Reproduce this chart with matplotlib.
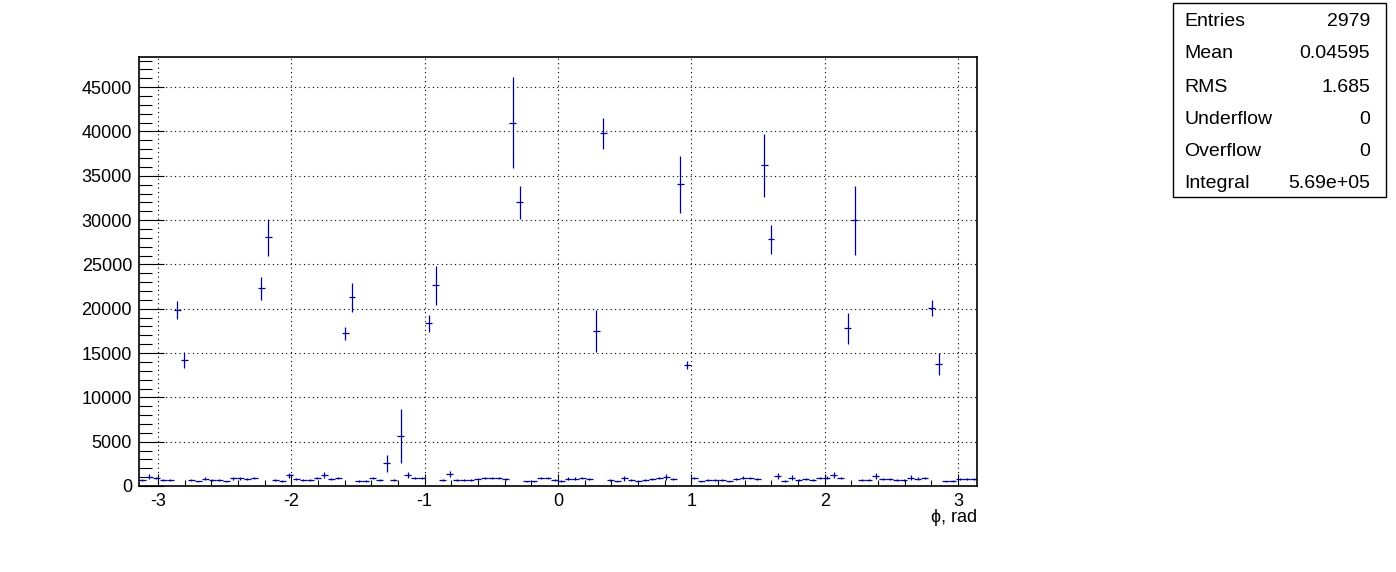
import numpy as np
import matplotlib.pyplot as plt
from matplotlib.patches import Rectangle
from matplotlib.ticker import MultipleLocator

plt.rcParams['font.family'] = ['Liberation Sans', 'DejaVu Sans']
plt.rcParams['axes.unicode_minus'] = False

# histogram: 120 bins from -pi to pi
n_bins = 120
phi_min, phi_max = -np.pi, np.pi

# bin contents, 10 bins per row
contents = [
    680, 1050, 900, 700, 700, 19850, 14210, 640, 530, 830,
    640, 640, 530, 860, 860, 750, 900, 22300, 28080, 680,
    570, 1200, 750, 640, 640, 870, 1240, 750, 870, 17220,
    21280, 570, 570, 870, 640, 2560, 640, 5640, 1240, 870,
    870, 18350, 22670, 640, 1350, 640, 640, 640, 750, 870,
    870, 870, 750, 41010, 32000, 530, 530, 870, 870, 640,
    570, 830, 830, 870, 750, 17480, 39770, 640, 530, 870,
    640, 530, 640, 750, 870, 1020, 750, 34020, 13650, 870,
    530, 640, 640, 640, 530, 750, 940, 870, 750, 36170,
    27860, 1130, 570, 940, 640, 750, 640, 870, 940, 1240,
    870, 17820, 30000, 640, 640, 1130, 750, 750, 640, 640,
    940, 830, 870, 20070, 13760, 530, 570, 750, 750, 750,
]

# bin errors
errors = [
    120, 300, 150, 120, 120, 1020, 900, 100, 90, 130,
    100, 100, 90, 130, 130, 120, 150, 1300, 2090, 110,
    90, 320, 120, 100, 100, 130, 330, 120, 130, 710,
    1650, 90, 90, 130, 100, 940, 100, 3010, 330, 130,
    130, 940, 2200, 100, 380, 100, 100, 100, 120, 130,
    130, 130, 120, 5130, 1860, 90, 90, 130, 130, 100,
    90, 130, 130, 130, 120, 2370, 1710, 100, 90, 280,
    100, 90, 100, 120, 130, 300, 120, 3230, 450, 130,
    90, 100, 100, 100, 90, 120, 150, 130, 120, 3530,
    1640, 320, 90, 280, 100, 120, 100, 130, 150, 330,
    130, 1750, 3890, 100, 100, 320, 120, 120, 100, 100,
    280, 130, 130, 900, 1240, 90, 90, 120, 120, 120,
]

stat_names = ["Entries", "Mean", "RMS", "Underflow", "Overflow", "Integral"]
stat_values = ["2979", "0.04595", "1.685", "0", "0", "5.69e+05"]

edges = np.linspace(phi_min, phi_max, n_bins + 1)
centers = 0.5 * (edges[:-1] + edges[1:])
half_width = 0.5 * (edges[1] - edges[0])

fig = plt.figure(figsize=(13.96, 5.72), dpi=100)
ax = fig.add_axes([139 / 1396, 86 / 572, 838 / 1396, 429 / 572])

ax.errorbar(centers, contents, xerr=half_width, yerr=errors, fmt='none',
            ecolor='#000099', elinewidth=0.9, capsize=0)

ax.set_xlim(phi_min, phi_max)
ax.set_ylim(0, 48400)

ax.xaxis.set_major_locator(MultipleLocator(1))
ax.xaxis.set_minor_locator(MultipleLocator(0.2))
ax.yaxis.set_major_locator(MultipleLocator(5000))
ax.yaxis.set_minor_locator(MultipleLocator(1000))
ax.tick_params(axis='x', which='major', direction='in', length=9, width=0.8, labelsize=13, pad=5)
ax.tick_params(axis='x', which='minor', direction='in', length=4.5, width=0.8)
ax.tick_params(axis='y', which='major', direction='in', length=18, width=0.8, labelsize=13, pad=5)
ax.tick_params(axis='y', which='minor', direction='in', length=9, width=0.8)

ax.grid(True, which='major', color='black', linestyle=(0, (1, 3)), linewidth=0.8)
for side in ax.spines.values():
    side.set_linewidth(1.2)

fig.text(977 / 1396, 1 - 517 / 572, "ϕ, rad", ha='right', va='center', fontsize=13)

# stats box
box = Rectangle((1173 / 1396, 1 - 197 / 572), 213 / 1396, 194 / 572,
                transform=fig.transFigure, fill=False, edgecolor='black', linewidth=1.0)
fig.patches.append(box)
row_y = [21, 54, 87, 119, 151, 184]
for name, val, y in zip(stat_names, stat_values, row_y):
    fig.text(1184 / 1396, 1 - y / 572, name, ha='left', va='center', fontsize=14)
    fig.text(1370 / 1396, 1 - y / 572, val, ha='right', va='center', fontsize=14)

fig.savefig("out.png", dpi=100)
